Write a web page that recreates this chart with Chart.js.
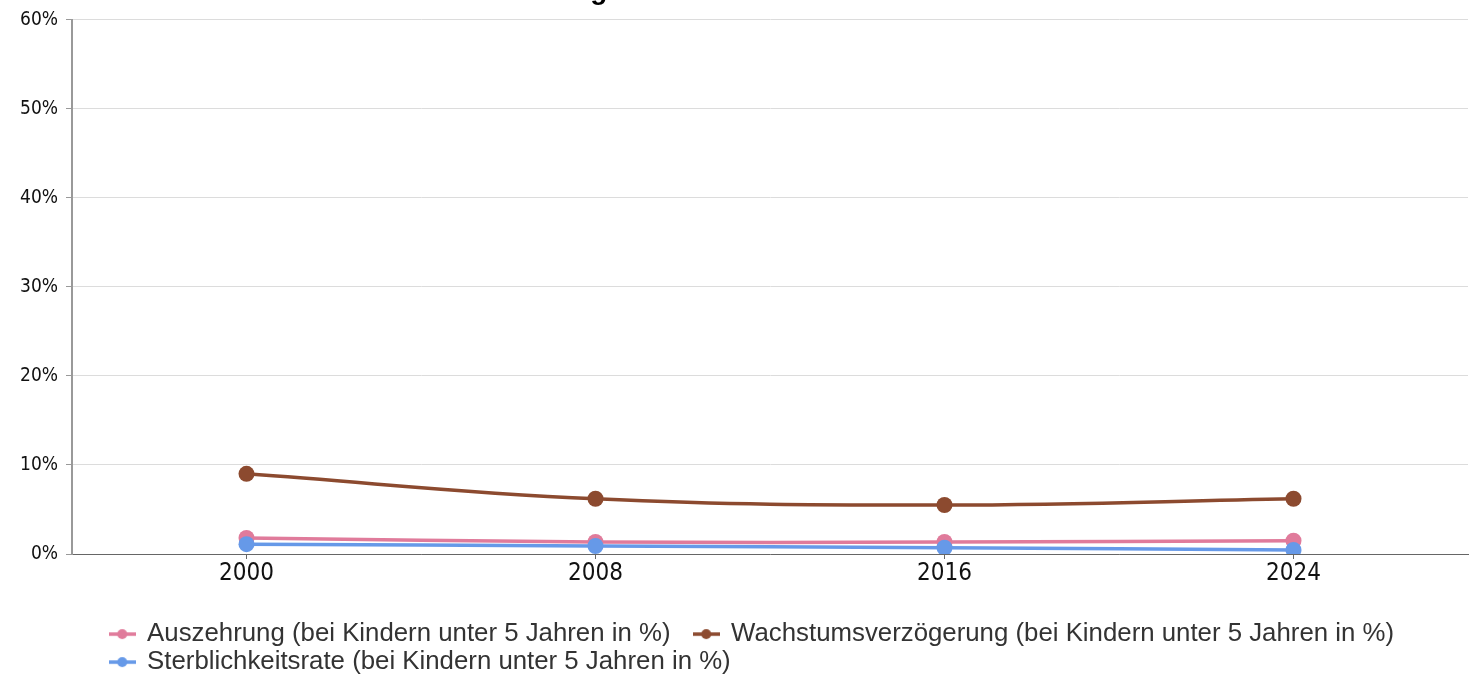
<!DOCTYPE html>
<html>
<head>
<meta charset="utf-8">
<script src="https://cdn.jsdelivr.net/npm/chart.js@4.4.1/dist/chart.umd.min.js"></script>
<style>
  html, body { margin: 0; padding: 0; background: #fff; overflow: hidden; }
  #wrap { position: absolute; left: 0; top: -28px; width: 1477px; height: 713px; }
</style>
</head>
<body>
<div id="wrap"><canvas id="chart"></canvas></div>
<script>
// data
const years = ['2000', '2008', '2016', '2024'];
const wasting = [1.8, 1.35, 1.35, 1.5];
const stunting = [9.0, 6.2, 5.5, 6.2];
const mortality = [1.1, 0.9, 0.7, 0.45];
const seriesNames = [
  'Auszehrung (bei Kindern unter 5 Jahren in %)',
  'Wachstumsverzögerung (bei Kindern unter 5 Jahren in %)',
  'Sterblichkeitsrate (bei Kindern unter 5 Jahren in %)'
];
const seriesColors = ['#e07b9b', '#8c4a2f', '#6699e8'];
const titleText = 'Ernährung und Sterblichkeit bei Kindern';

const narrow = "'Liberation Sans Narrow', 'DejaVu Sans Condensed', sans-serif";
const arial = "'Liberation Sans', Arial, sans-serif";

// little line-with-dot icon for the legend
function legendIcon(color) {
  const c = document.createElement('canvas');
  c.width = 27;
  c.height = 12;
  const g = c.getContext('2d');
  g.strokeStyle = color;
  g.lineWidth = 3.5;
  g.beginPath();
  g.moveTo(0, 6);
  g.lineTo(27, 6);
  g.stroke();
  g.fillStyle = color;
  g.beginPath();
  g.arc(13.5, 6, 5, 0, Math.PI * 2);
  g.fill();
  return c;
}

// legend starts indented like the original
const legendShift = {
  id: 'legendShift',
  afterLayout(chart) {
    if (chart.legend) chart.legend.left = 108;
  }
};

function makeSeries(i, values, order) {
  return {
    label: seriesNames[i],
    data: values,
    borderColor: seriesColors[i],
    backgroundColor: seriesColors[i],
    borderWidth: 3.5,
    pointRadius: 8,
    pointHoverRadius: 9,
    pointBorderWidth: 0,
    tension: 0.4,
    order: order
  };
}

const ctx = document.getElementById('chart').getContext('2d');
new Chart(ctx, {
  type: 'line',
  data: {
    labels: years,
    datasets: [
      makeSeries(0, wasting, 0),
      makeSeries(1, stunting, 1),
      makeSeries(2, mortality, -1)
    ]
  },
  options: {
    responsive: true,
    maintainAspectRatio: false,
    animation: false,
    layout: { padding: { left: 0, right: 7, top: 0, bottom: 0 } },
    plugins: {
      title: {
        display: true,
        text: titleText,
        color: '#000',
        font: { family: arial, size: 28, weight: 'bold' },
        padding: { top: 2, bottom: 12 }
      },
      legend: {
        position: 'bottom',
        align: 'start',
        labels: {
          usePointStyle: true,
          pointStyleWidth: 24,
          boxHeight: 10,
          padding: 2.2,
          color: '#333',
          font: { family: arial, size: 25.8 },
          sort: (a, b) => a.datasetIndex - b.datasetIndex,
          generateLabels: chart => chart.data.datasets.map((ds, i) => ({
            text: ds.label + (i === 0 ? '   ' : ''),
            pointStyle: legendIcon(ds.borderColor),
            fillStyle: ds.borderColor,
            strokeStyle: ds.borderColor,
            lineWidth: 0,
            fontColor: '#333',
            hidden: false,
            datasetIndex: i
          }))
        }
      },
      tooltip: { enabled: true }
    },
    scales: {
      x: {
        offset: true,
        grid: {
          offset: false,
          drawOnChartArea: false,
          drawTicks: true,
          tickLength: 5,
          tickColor: '#666'
        },
        border: { color: '#666', width: 1 },
        ticks: {
          color: '#111',
          padding: 0,
          font: { family: narrow, size: 24 }
        },
        afterFit: s => { s.height = 65; }
      },
      y: {
        min: 0,
        max: 60,
        grid: {
          color: '#dcdcdc',
          tickLength: 6,
          tickColor: '#999'
        },
        border: { color: '#999', width: 2 },
        ticks: {
          stepSize: 10,
          color: '#111',
          padding: 8,
          font: { family: narrow, size: 19 },
          callback: v => v + '%'
        },
        afterFit: s => { s.width = 72; }
      }
    }
  },
  plugins: [legendShift]
});
</script>
</body>
</html>
